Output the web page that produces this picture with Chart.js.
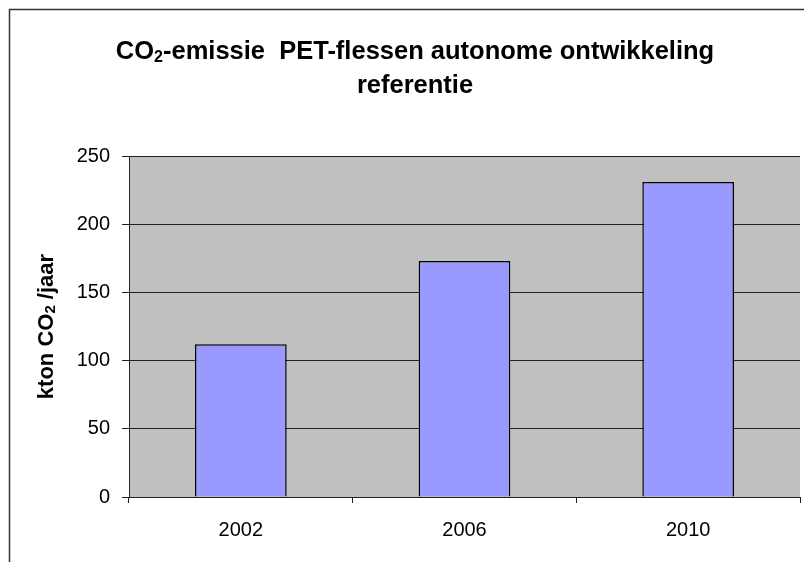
<!DOCTYPE html>
<html>
<head>
<meta charset="utf-8">
<script src="https://cdn.jsdelivr.net/npm/chart.js@4.4.1/dist/chart.umd.min.js"></script>
<style>
  body { margin: 0; background: #fff; }
  canvas { display: block; }
</style>
</head>
<body>
<canvas id="co2Chart" width="804" height="562"></canvas>
<script>
var years = ['2002', '2006', '2010'];
var emissions = [112, 173, 231];
var yTicks = [0, 50, 100, 150, 200, 250];

var fontFamily = '"Liberation Sans", Arial, sans-serif';

// grey plot area behind the bars
var plotBackground = {
  id: 'plotBackground',
  beforeDraw: function (chart) {
    var a = chart.chartArea;
    var ctx = chart.ctx;
    ctx.save();
    ctx.fillStyle = '#c0c0c0';
    ctx.fillRect(a.left, a.top, a.right - a.left, a.bottom - a.top);
    ctx.restore();
  }
};

// draws runs of text where some pieces are lowered subscripts
function drawRuns(ctx, parts, cx, cy) {
  var total = 0;
  parts.forEach(function (p) {
    ctx.font = p.f;
    p.w = ctx.measureText(p.t).width;
    total += p.w;
  });
  var x = cx - total / 2;
  parts.forEach(function (p) {
    ctx.font = p.f;
    ctx.fillText(p.t, x, cy + p.dy);
    x += p.w;
  });
}

// heading, y-axis caption and the open frame around the chart
var heading = {
  id: 'heading',
  afterDraw: function (chart) {
    var ctx = chart.ctx;
    ctx.save();

    ctx.strokeStyle = '#333';
    ctx.lineWidth = 1.5;
    ctx.beginPath();
    ctx.moveTo(9.5, 562);
    ctx.lineTo(9.5, 9.5);
    ctx.lineTo(804, 9.5);
    ctx.stroke();

    var big = 'bold 25.5px ' + fontFamily;
    var small = 'bold 16px ' + fontFamily;
    ctx.fillStyle = '#000';
    ctx.textBaseline = 'middle';
    ctx.textAlign = 'left';
    drawRuns(ctx, [
      { t: 'CO', f: big, dy: 0 },
      { t: '2', f: small, dy: 6 },
      { t: '-emissie  PET-flessen autonome ontwikkeling', f: big, dy: 0 }
    ], 415, 52);
    drawRuns(ctx, [{ t: 'referentie', f: big, dy: 0 }], 415, 86);

    var a = chart.chartArea;
    var axisFont = 'bold 22px ' + fontFamily;
    var axisSmall = 'bold 15px ' + fontFamily;
    ctx.translate(47, (a.top + a.bottom) / 2);
    ctx.rotate(-Math.PI / 2);
    drawRuns(ctx, [
      { t: 'kton CO', f: axisFont, dy: 0 },
      { t: '2', f: axisSmall, dy: 4 },
      { t: ' /jaar', f: axisFont, dy: 0 }
    ], 0, 0);
    ctx.restore();
  }
};

new Chart(document.getElementById('co2Chart'), {
  type: 'bar',
  data: {
    labels: years,
    datasets: [
      {
        data: emissions,
        backgroundColor: '#9999ff',
        borderColor: '#000',
        borderWidth: 1.5,
        barPercentage: 0.41,
        categoryPercentage: 1
      }
    ]
  },
  options: {
    responsive: false,
    animation: false,
    layout: { padding: { top: 156, right: 4, bottom: 0, left: 0 } },
    plugins: {
      legend: { display: false },
      title: { display: false },
      tooltip: { enabled: false }
    },
    scales: {
      x: {
        afterFit: function (scale) { scale.height = 65; },
        grid: {
          offset: true,
          drawOnChartArea: false,
          drawTicks: true,
          tickLength: 6,
          color: '#222'
        },
        border: { color: '#222', width: 1 },
        ticks: {
          color: '#000',
          padding: 15,
          font: { family: fontFamily, size: 20 }
        }
      },
      y: {
        min: 0,
        max: 250,
        afterFit: function (scale) { scale.width = 129; },
        afterBuildTicks: function (scale) {
          scale.ticks = yTicks.map(function (v) { return { value: v }; });
        },
        grid: {
          color: '#222',
          lineWidth: 1,
          drawTicks: true,
          tickLength: 7
        },
        border: { color: '#222', width: 1 },
        ticks: {
          color: '#000',
          padding: 12,
          font: { family: fontFamily, size: 20 }
        }
      }
    }
  },
  plugins: [plotBackground, heading]
});
</script>
</body>
</html>
